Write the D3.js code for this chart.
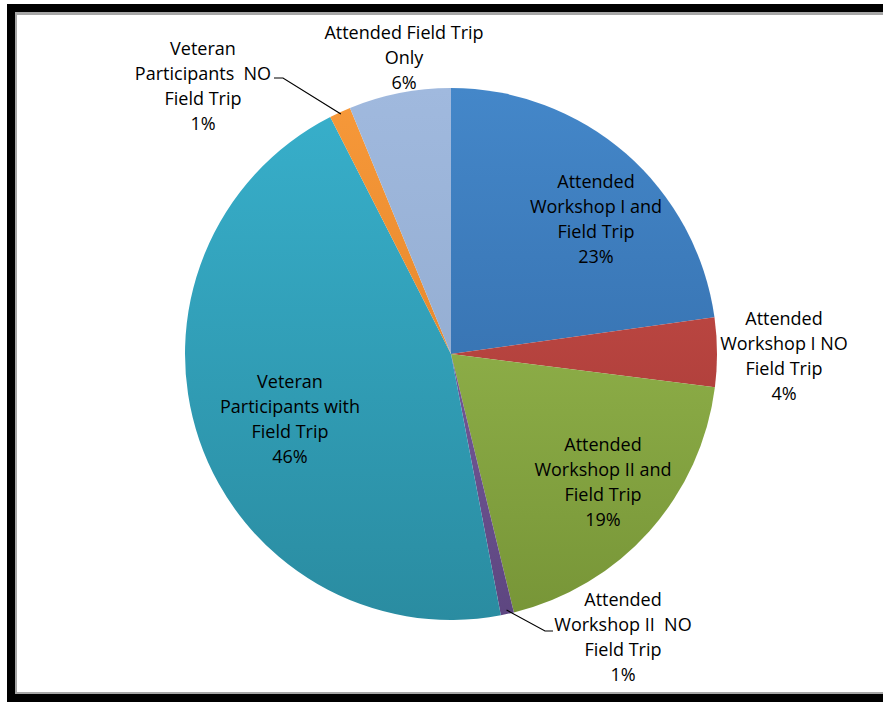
<!DOCTYPE html>
<html>
<head>
<meta charset="utf-8">
<script src="https://cdn.jsdelivr.net/npm/d3@7"></script>
<style>
  body { margin: 0; background: #fff; }
  .label { font-family: "Open Sans", "Liberation Sans", sans-serif; font-size: 18px; fill: #000; }
  .leader { stroke: #000; stroke-width: 1.2; fill: none; }
</style>
</head>
<body>
<svg id="chart" width="883" height="702"></svg>
<script>
// slice categories, clockwise from 12 o'clock
var categories = [
  "Attended Workshop I and Field Trip",
  "Attended Workshop I NO Field Trip",
  "Attended Workshop II and Field Trip",
  "Attended Workshop II  NO Field Trip",
  "Veteran Participants with Field Trip",
  "Veteran Participants  NO Field Trip",
  "Attended Field Trip Only"
];
// share of participants (percent)
var values = [22.8, 4.2, 19.2, 0.8, 45.5, 1.3, 6.2];

// label lines (last line gets the percentage)
var labelLines = [
  ["Attended", "Workshop I and", "Field Trip"],
  ["Attended", "Workshop I NO", "Field Trip"],
  ["Attended", "Workshop II and", "Field Trip"],
  ["Attended", "Workshop II  NO", "Field Trip"],
  ["Veteran", "Participants with", "Field Trip"],
  ["Veteran", "Participants  NO", "Field Trip"],
  ["Attended Field Trip", "Only"]
];

// top / bottom gradient colours per slice
var colorsTop = ["#4487c9", "#cf524c", "#a0c356", "#8a6aae", "#38b0cc", "#f7993a", "#a0b9de"];
var colorsBot = ["#2e64a0", "#9c3431", "#779537", "#5d4680", "#2a8ca1", "#d97a20", "#8aa4c8"];

var svg = d3.select("#chart"),
    width = +svg.attr("width"),
    height = +svg.attr("height");

// frame
svg.append("rect").attr("x", 7).attr("y", 4).attr("width", width).attr("height", 698).attr("fill", "#000");
svg.append("rect").attr("x", 15).attr("y", 12).attr("width", width).attr("height", 682).attr("fill", "#a6a6a6");
svg.append("rect").attr("x", 17).attr("y", 15).attr("width", width).attr("height", 677).attr("fill", "#fff");

var cx = 451, cy = 354, r = 266;

// vertical gradients in the pie group's coordinates
var defs = svg.append("defs");
colorsTop.forEach(function(c, i) {
  var grad = defs.append("linearGradient")
    .attr("id", "grad" + i)
    .attr("gradientUnits", "userSpaceOnUse")
    .attr("x1", 0).attr("y1", -r).attr("x2", 0).attr("y2", r);
  grad.append("stop").attr("offset", "0%").attr("stop-color", colorsTop[i]);
  grad.append("stop").attr("offset", "100%").attr("stop-color", colorsBot[i]);
});

var pie = d3.pie().sort(null).value(function(d) { return d; });
var arc = d3.arc().innerRadius(0).outerRadius(r);
var pies = pie(values);

var g = svg.append("g").attr("transform", "translate(" + cx + "," + cy + ")");

g.selectAll(".slice")
  .data(pies)
  .enter().append("path")
    .attr("class", "slice")
    .attr("d", arc)
    .attr("fill", function(d, i) { return "url(#grad" + i + ")"; })
  .append("title")
    .text(function(d, i) { return categories[i] + ": " + Math.round(d.value) + "%"; });

// label anchors (center x, first line center y)
var labelPos = [
  [596, 182], [784, 319], [603, 445], [623, 600],
  [290, 382], [203, 49], [404, 33]
];
var lineH = 25;

labelLines.forEach(function(lines, i) {
  var all = lines.concat([Math.round(values[i]) + "%"]);
  var t = svg.append("text")
    .attr("class", "label")
    .attr("text-anchor", "middle")
    .attr("xml:space", "preserve");
  all.forEach(function(s, k) {
    t.append("tspan")
      .attr("x", labelPos[i][0])
      .attr("y", labelPos[i][1] + k * lineH)
      .attr("dy", "0.35em")
      .text(s);
  });
});

// leader lines for the small slices
function edgePoint(d, rr) {
  var a = (d.startAngle + d.endAngle) / 2;
  return [cx + Math.sin(a) * rr, cy - Math.cos(a) * rr];
}
var p5 = edgePoint(pies[5], r - 2);
svg.append("path").attr("class", "leader")
  .attr("d", d3.line()([[274, 78], [283, 78], p5]));
var p3 = edgePoint(pies[3], r - 4);
svg.append("path").attr("class", "leader")
  .attr("d", d3.line()([p3, [545, 631], [553, 631]]));
</script>
</body>
</html>
